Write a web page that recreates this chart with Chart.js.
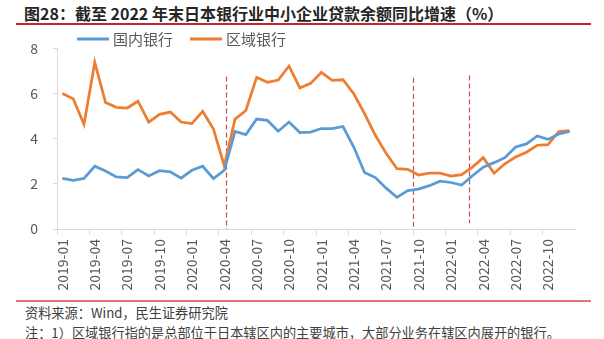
<!DOCTYPE html>
<html>
<head>
<meta charset="utf-8">
<script src="https://cdn.jsdelivr.net/npm/chart.js@4"></script>
<style>
  body { margin: 0; background: #fff; }
  #wrap { position: relative; width: 604px; height: 339px; overflow: hidden; font-family: 'Noto Sans CJK SC', 'Noto Sans', sans-serif; }
  #title { position: absolute; left: 24px; top: 3px; font-size: 16px; font-weight: bold; color: #262626; white-space: nowrap; line-height: 20px; }
  .rule { position: absolute; left: 16px; width: 575px; }
  #topRule { top: 23px; height: 2px; background: #c0282d; }
  #bottomRule { top: 300px; height: 2px; background: #e57373; }
  .note { position: absolute; left: 25px; font-size: 13.2px; color: #404040; white-space: nowrap; line-height: 16px; }
  #box { position: absolute; left: 0; top: 25px; width: 604px; height: 275px; }
</style>
</head>
<body>
<div id="wrap">
  <div id="title">图28：截至 2022 年末日本银行业中小企业贷款余额同比增速（%）</div>
  <div class="rule" id="topRule"></div>
  <div id="box"><canvas id="myChart"></canvas></div>
  <div class="rule" id="bottomRule"></div>
  <div class="note" style="top:305px">资料来源：Wind，民生证券研究院</div>
  <div class="note" style="top:325px">注：1）区域银行指的是总部位于日本辖区内的主要城市，大部分业务在辖区内展开的银行。</div>
</div>
<script>
// months 2019-01 .. 2022-12
const labels = [
  "2019-01","2019-02","2019-03","2019-04","2019-05","2019-06","2019-07","2019-08","2019-09","2019-10","2019-11","2019-12",
  "2020-01","2020-02","2020-03","2020-04","2020-05","2020-06","2020-07","2020-08","2020-09","2020-10","2020-11","2020-12",
  "2021-01","2021-02","2021-03","2021-04","2021-05","2021-06","2021-07","2021-08","2021-09","2021-10","2021-11","2021-12",
  "2022-01","2022-02","2022-03","2022-04","2022-05","2022-06","2022-07","2022-08","2022-09","2022-10","2022-11","2022-12"
];
const domestic = [
  2.24, 2.16, 2.24, 2.78, 2.57, 2.31, 2.28, 2.63, 2.35, 2.58, 2.53, 2.25,
  2.60, 2.78, 2.23, 2.60, 4.32, 4.18, 4.87, 4.81, 4.33, 4.74, 4.27, 4.29,
  4.45, 4.45, 4.54, 3.63, 2.50, 2.28, 1.81, 1.40, 1.70, 1.77, 1.92, 2.12,
  2.06, 1.95, 2.36, 2.74, 2.94, 3.16, 3.63, 3.77, 4.12, 3.97, 4.21, 4.32
];
const regional = [
  6.00, 5.77, 4.63, 7.38, 5.60, 5.39, 5.36, 5.66, 4.73, 5.08, 5.18, 4.74,
  4.67, 5.21, 4.43, 2.80, 4.87, 5.25, 6.72, 6.50, 6.60, 7.22, 6.25, 6.45,
  6.94, 6.58, 6.61, 5.99, 5.11, 4.15, 3.35, 2.67, 2.64, 2.39, 2.47, 2.47,
  2.34, 2.41, 2.74, 3.16, 2.47, 2.89, 3.19, 3.40, 3.71, 3.74, 4.32, 4.36
];
const yTicks = [0, 2, 4, 6, 8];
// dashed marker lines: position in category index, top and bottom value
const markerPos = [15.2, 32.45, 37.65];
const markerTop = [6.75, 6.7, 6.8];
const markerBottom = [0, 0.05, 0.25];

const axisFont = { family: "'Noto Sans CJK SC', 'Noto Sans', sans-serif", size: 14 };

// vertical dashed lines
const markerLines = {
  id: 'markerLines',
  beforeDatasetsDraw(chart) {
    const ctx = chart.ctx, x = chart.scales.x, y = chart.scales.y;
    ctx.save();
    ctx.strokeStyle = '#cc4b4b';
    ctx.lineWidth = 1.2;
    ctx.setLineDash([5, 3]);
    markerPos.forEach((p, i) => {
      const px = Math.round(x.getPixelForValue(p)) + 0.5;
      ctx.beginPath();
      ctx.moveTo(px, y.getPixelForValue(markerTop[i]));
      ctx.lineTo(px, y.getPixelForValue(markerBottom[i]));
      ctx.stroke();
    });
    ctx.restore();
  }
};

// legend drawn inside the plot, as in the original
const innerLegend = {
  id: 'innerLegend',
  afterDatasetsDraw(chart) {
    const ctx = chart.ctx;
    const spots = [77, 190];
    const yy = 14;
    ctx.save();
    ctx.font = "15px 'Noto Sans CJK SC', 'Noto Sans', sans-serif";
    ctx.textBaseline = 'middle';
    chart.data.datasets.forEach((ds, i) => {
      const x0 = spots[i];
      ctx.strokeStyle = ds.borderColor;
      ctx.lineWidth = 3;
      ctx.beginPath();
      ctx.moveTo(x0, yy);
      ctx.lineTo(x0 + 32, yy);
      ctx.stroke();
      ctx.fillStyle = '#595959';
      ctx.fillText(ds.label, x0 + 36, yy);
    });
    ctx.restore();
  }
};

var ctx = document.getElementById('myChart').getContext('2d');
var myChart = new Chart(ctx, {
  type: 'line',
  data: {
    labels: labels,
    datasets: [{
      label: '国内银行',
      data: domestic,
      borderColor: '#5b9bd5',
      borderWidth: 2.75,
      pointRadius: 0,
      tension: 0
    }, {
      label: '区域银行',
      data: regional,
      borderColor: '#ed7d31',
      borderWidth: 2.75,
      pointRadius: 0,
      tension: 0
    }]
  },
  options: {
    responsive: true,
    maintainAspectRatio: false,
    animation: false,
    layout: { padding: { left: 0, right: 29, top: 10, bottom: 0 } },
    plugins: {
      legend: { display: false },
      tooltip: { enabled: false }
    },
    scales: {
      x: {
        offset: true,
        grid: {
          offset: true,
          drawOnChartArea: false,
          tickLength: 6,
          color: c => (c.index % 3 === 0 ? '#d9d9d9' : 'rgba(0,0,0,0)')
        },
        border: { color: '#d9d9d9' },
        ticks: {
          autoSkip: false,
          minRotation: 90,
          maxRotation: 90,
          padding: 4,
          color: '#595959',
          font: axisFont,
          callback: function (v, i) { return i % 3 === 0 ? labels[i] : ''; }
        },
        afterFit: s => { s.height = 71; }
      },
      y: {
        min: 0,
        max: 8,
        afterBuildTicks: s => { s.ticks = yTicks.map(v => ({ value: v })); },
        grid: { drawOnChartArea: false, tickLength: 4, color: '#d9d9d9' },
        border: { color: '#d9d9d9' },
        ticks: { padding: 15, color: '#595959', font: axisFont },
        afterFit: s => { s.width = 57; }
      }
    }
  },
  plugins: [markerLines, innerLegend]
});
</script>
</body>
</html>
